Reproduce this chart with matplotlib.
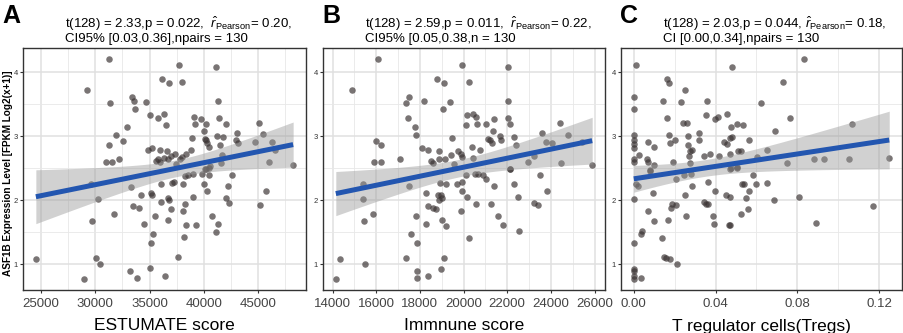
import numpy as np
import matplotlib
matplotlib.use("Agg")
import matplotlib.pyplot as plt
from matplotlib.ticker import MultipleLocator

plt.rcParams['font.family'] = ['Liberation Sans', 'DejaVu Sans']
plt.rcParams['mathtext.fontset'] = 'custom'
plt.rcParams['mathtext.rm'] = 'Liberation Sans'
plt.rcParams['mathtext.it'] = 'Liberation Sans:italic'

# ---------------- data ----------------
estimate_x = [31300, 37690, 41120, 29190, 36160, 36830, 38000, 33410, 33560, 31390,
              34630, 41300, 33620, 35060, 35730, 36370, 36500, 39070, 39190, 39740,
              40230, 41360, 42030, 32920, 31940, 31210, 32550, 32190, 31000, 31570,
              34880, 35240, 35980, 36620, 38910, 40010, 40080, 40230, 40290, 40470,
              41180, 41730, 41450, 41660, 41570, 42950, 43100, 43170, 45060, 45430,
              44690, 46250, 46530, 45980, 48240, 35580, 35790, 35980, 36340, 36710,
              37010, 37350, 37440, 37780, 37990, 38390, 38780, 40080, 40470,
              24510, 28980, 29620, 30200, 29710, 30080, 30410, 31730, 33290, 34200,
              33440, 33990, 34450, 33230, 33840, 35120, 35180, 35490, 35270, 35150,
              35060, 36040, 36010, 36680, 36830, 36950, 36680, 37040, 37280, 36410,
              37620, 38100, 38280, 38520, 38980, 38280, 38100, 38370, 38190, 39040,
              39310, 39860, 40050, 40200, 40600, 40500, 40320, 40780, 41330, 41120,
              42070, 42190, 42310, 42640, 45180, 45700]
estimate_y = [4.21, 4.11, 4.09, 3.73, 3.90, 3.84, 3.85, 3.61, 3.56, 3.52,
              3.53, 3.55, 3.43, 3.34, 3.29, 3.35, 3.18, 3.31, 3.20, 3.27,
              3.20, 3.29, 3.19, 3.14, 3.02, 2.86, 2.93, 2.64, 2.60, 2.60,
              2.78, 2.82, 2.78, 2.77, 2.97, 3.09, 2.96, 2.94, 2.89, 2.84,
              3.00, 2.99, 2.86, 2.71, 2.59, 2.95, 3.06, 2.89, 3.21, 3.03,
              2.92, 2.92, 2.78, 2.60, 2.56, 2.61, 2.64, 2.60, 2.66, 2.65,
              2.70, 2.73, 2.57, 2.65, 2.68, 2.72, 2.78, 2.49, 2.51,
              1.08, 0.77, 2.26, 2.02, 1.67, 1.10, 1.01, 1.78, 2.21, 2.08,
              1.91, 1.88, 1.63, 0.90, 0.79, 2.11, 2.08, 1.75, 1.47, 1.33,
              0.94, 2.26, 1.98, 2.04, 2.01, 1.86, 1.70, 2.27, 2.28, 0.82,
              1.11, 2.26, 2.38, 2.40, 2.41, 1.95, 1.83, 1.61, 1.42, 2.06,
              1.61, 2.41, 2.26, 2.49, 2.53, 2.39, 2.15, 1.76, 1.63, 1.51,
              2.04, 2.22, 1.96, 2.39, 1.93, 2.15]

immune_x = [16060, 19950, 22030, 14910, 18790, 19090, 20260, 17350, 17490, 18210,
            19060, 19380, 22030, 17440, 20180, 20440, 20570, 20120, 20610, 21010,
            21410, 22030, 22110, 17760, 17830, 15970, 16200, 15910, 16200, 17080,
            18110, 18360, 19470, 18880, 18510, 18600, 18880, 19140, 19430, 19560,
            19760, 19880, 19940, 20380, 20440, 20740, 21120, 21200, 21300, 21330,
            21680, 21700, 22320, 22380, 22140, 22970, 23230, 23590, 23760, 24060,
            24410, 24790, 25410, 24470, 25890,
            14150, 14320, 15410, 15380, 15440, 15850, 15470, 17500, 18290, 17830,
            17590, 17890, 17360, 17880, 17880, 18380, 18260, 18380, 18590, 18740,
            18910, 19180, 18830, 18980, 18890, 19010, 19030, 19200, 19090, 18980,
            19710, 19920, 19920, 19860, 20120, 20140, 20240, 20510, 20640, 20880,
            21030, 20560, 21270, 21390, 21590, 21820, 22120, 22290, 22510, 22530,
            23210, 23410, 23480, 23820]
immune_y = [4.21, 4.11, 4.09, 3.73, 3.90, 3.84, 3.85, 3.52, 3.61, 3.56,
            3.43, 3.53, 3.55, 3.29, 3.34, 3.35, 3.31, 3.18, 3.20, 3.20,
            3.27, 3.29, 3.19, 3.14, 3.02, 2.93, 2.86, 2.60, 2.60, 2.64,
            2.82, 2.78, 2.97, 2.77, 2.61, 2.58, 2.65, 2.64, 2.71, 2.57,
            2.77, 2.73, 2.68, 2.84, 2.66, 2.78, 2.96, 2.95, 2.89, 3.09,
            3.00, 2.95, 2.99, 2.86, 2.49, 2.60, 2.69, 3.06, 2.92, 2.89,
            3.21, 3.02, 2.92, 2.59, 2.56,
            0.77, 1.08, 2.26, 2.02, 1.67, 1.79, 1.01, 2.22, 2.11, 1.75,
            1.47, 1.33, 1.10, 0.90, 0.79, 0.81, 1.63, 1.91, 1.88, 1.86,
            2.27, 2.26, 2.08, 2.08, 2.01, 2.03, 1.70, 1.60, 1.10, 0.93,
            2.26, 2.29, 2.15, 1.83, 2.40, 2.06, 1.41, 2.41, 2.41, 2.39,
            2.33, 1.95, 1.94, 2.23, 1.76, 1.62, 2.49, 2.26, 2.05, 1.52,
            1.96, 1.93, 2.39, 2.15]

treg_x = [0.0013, 0.0480, 0.0834, 0.0163, 0.0174, 0.0251, 0.0002, 0.0002, 0.0143, 0.0229,
          0.0356, 0.0731, 0.0623, 0.0161, 0.0354, 0.0396, 0.0412, 0.0456, 0.0243, 0.0261,
          0.0503, 0.0536, 0.0474, 0.0765, 0.0691, 0.1068, 0.0, 0.0, 0.0, 0.0,
          0.0, 0.0, 0.0024, 0.0069, 0.0097, 0.0066, 0.0072, 0.0098, 0.0171, 0.0177,
          0.0200, 0.0193, 0.0264, 0.0317, 0.0319, 0.0266, 0.0274, 0.0284, 0.0271, 0.0275,
          0.0343, 0.0375, 0.0416, 0.0443, 0.0458, 0.0469, 0.0483, 0.0470, 0.0511, 0.0525,
          0.0565, 0.0604, 0.0652, 0.0749, 0.0884, 0.0933, 0.1055, 0.1250, 0.0079, 0.0474,
          0.0506,
          0.0, 0.0, 0.0, 0.0, 0.0034, 0.0, 0.0, 0.0011, 0.0019, 0.0081,
          0.0093, 0.0037, 0.0042, 0.0068, 0.0101, 0.0137, 0.0148, 0.0156, 0.0176, 0.0211,
          0.0168, 0.0180, 0.0188, 0.0206, 0.0206, 0.0248, 0.0282, 0.0255, 0.0253, 0.0285,
          0.0346, 0.0353, 0.0361, 0.0364, 0.0387, 0.0391, 0.0398, 0.0453, 0.0469, 0.0464,
          0.0470, 0.0472, 0.0507, 0.0530, 0.0541, 0.0527, 0.0551, 0.0559, 0.0564, 0.0583,
          0.0599, 0.0654, 0.0688, 0.0809, 0.0891, 0.1170]
treg_y = [4.11, 4.09, 4.21, 3.90, 3.84, 3.73, 3.61, 3.43, 3.56, 3.53,
          3.55, 3.85, 3.52, 3.29, 3.34, 3.27, 3.31, 3.35, 3.21, 3.21,
          3.19, 3.18, 3.14, 3.29, 3.09, 3.20, 3.02, 2.95, 2.88, 2.82,
          2.65, 2.60, 2.71, 2.92, 2.84, 2.65, 2.60, 2.56, 3.02, 2.89,
          2.95, 2.60, 3.00, 3.06, 2.95, 2.86, 2.77, 2.78, 2.69, 2.58,
          2.69, 2.72, 2.70, 2.91, 2.88, 2.97, 2.99, 2.73, 2.77, 2.77,
          2.95, 2.67, 2.78, 2.59, 2.65, 2.65, 2.65, 2.66, 2.46, 2.50,
          2.50,
          0.77, 0.82, 0.92, 0.90, 0.79, 1.33, 2.02, 2.26, 2.22, 2.47,
          2.11, 1.48, 1.52, 1.83, 1.67, 1.41, 1.11, 1.10, 1.08, 1.01,
          1.70, 1.88, 1.94, 1.93, 2.34, 2.39, 2.41, 1.75, 2.08, 2.23,
          1.98, 1.95, 1.95, 2.28, 1.76, 1.63, 2.15, 2.08, 2.06, 1.61,
          1.61, 2.49, 2.52, 2.26, 2.26, 1.78, 2.03, 1.86, 2.15, 2.39,
          2.25, 2.27, 2.01, 2.05, 1.64, 1.91]

panel_letters = ["A", "B", "C"]
x_titles = ["ESTUMATE score", "Immnune score", "T regulator cells(Tregs)"]
stat_line1 = [r"t(128) = 2.33,p = 0.022,  $\hat{r}_{\mathrm{Pearson}}$= 0.20,",
              r"t(128) = 2.59,p = 0.011,  $\hat{r}_{\mathrm{Pearson}}$= 0.22,",
              r"t(128) = 2.03,p = 0.044, $\hat{r}_{\mathrm{Pearson}}$= 0.18,"]
stat_line2 = ["CI95% [0.03,0.36],npairs = 130",
              "CI95% [0.05,0.38,n = 130",
              "CI [0.00,0.34],npairs = 130"]
y_title = "ASF1B Expression Level [FPKM Log2(x+1)]"
x_ticks = [[25000, 30000, 35000, 40000, 45000],
           [14000, 16000, 18000, 20000, 22000, 24000, 26000],
           [0.00, 0.04, 0.08, 0.12]]
x_ticklabels = [["25000", "30000", "35000", "40000", "45000"],
                ["14000", "16000", "18000", "20000", "22000", "24000", "26000"],
                ["0.00", "0.04", "0.08", "0.12"]]
y_ticks = [1, 2, 3, 4]
T_CRIT = 1.979  # t quantile, df = 128

# ---------------- layout ----------------
W, H = 904, 333
fig = plt.figure(figsize=(W / 100, H / 100), dpi=100)
boxes = [(23, 306), (323, 605), (621, 902)]
top_px, bot_px = 48, 290

xs_all = [estimate_x, immune_x, treg_x]
ys_all = [estimate_y, immune_y, treg_y]

for i in range(3):
    l, r = boxes[i]
    ax = fig.add_axes([l / W, 1 - bot_px / H, (r - l) / W, (bot_px - top_px) / H])
    x = np.asarray(xs_all[i], float)
    y = np.asarray(ys_all[i], float)

    # regression + confidence band
    n = len(x)
    xm, ym = x.mean(), y.mean()
    sxx = ((x - xm) ** 2).sum()
    b1 = ((x - xm) * (y - ym)).sum() / sxx
    b0 = ym - b1 * xm
    resid = y - (b0 + b1 * x)
    s = np.sqrt((resid ** 2).sum() / (n - 2))
    xg = np.linspace(x.min(), x.max(), 100)
    yg = b0 + b1 * xg
    se = s * np.sqrt(1 / n + (xg - xm) ** 2 / sxx)

    ax.scatter(x, y, s=22, color="#3a3333", alpha=0.68, linewidths=0, zorder=3)
    ax.fill_between(xg, yg - T_CRIT * se, yg + T_CRIT * se, color="#9a9a9a", alpha=0.45,
                    linewidth=0, zorder=4)
    ax.plot(xg, yg, color="#2356b0", lw=3.6, zorder=5, solid_capstyle="butt")

    xr = x.max() - x.min()
    ax.set_xlim(x.min() - 0.05 * xr, x.max() + 0.05 * xr)
    ax.set_ylim(0.598, 4.382)

    ax.set_xticks(x_ticks[i])
    ax.set_xticklabels(x_ticklabels[i])
    step = x_ticks[i][1] - x_ticks[i][0]
    ax.xaxis.set_minor_locator(MultipleLocator(step / 2))
    ax.set_yticks(y_ticks)
    ax.yaxis.set_minor_locator(MultipleLocator(0.5))
    ax.grid(True, which="major", color="#e0e0e0", lw=1.1, zorder=0)
    ax.grid(True, which="minor", color="#e8e8e8", lw=0.6, zorder=0)
    ax.set_axisbelow(True)
    ax.tick_params(axis="x", which="major", labelsize=9.5, length=2.5, width=0.8,
                   color="#333333", labelcolor="#444444", pad=3)
    ax.tick_params(axis="y", which="major", labelsize=5.5, length=2, width=0.8,
                   color="#333333", labelcolor="#333333", pad=1.5)
    ax.tick_params(which="minor", length=0)
    for sp in ax.spines.values():
        sp.set_color("#333333")
        sp.set_linewidth(1.0)

    ax.set_xlabel(x_titles[i], fontsize=12.5)
    ax.xaxis.label.set_va("center")
    ax.xaxis.set_label_coords(0.5, -(326 - bot_px) / (bot_px - top_px))

    if i == 0:
        ax.set_ylabel(y_title, fontsize=7.2, fontweight="bold")
        ax.yaxis.label.set_va("center")
        ax.yaxis.set_label_coords(-(l - 8) / (r - l), (bot_px - 173) / (bot_px - top_px))

    fig.text((l + 42) / W, 1 - 28 / H, stat_line1[i], fontsize=9.5, ha="left", va="baseline")
    fig.text((l + 42) / W, 1 - 42 / H, stat_line2[i], fontsize=9.5, ha="left", va="baseline")
    fig.text((l - 21 if i == 0 else l - 1) / W, 1 - 23 / H, panel_letters[i], fontsize=18,
             fontweight="bold", ha="left", va="baseline")

fig.savefig("out.png", dpi=100)
